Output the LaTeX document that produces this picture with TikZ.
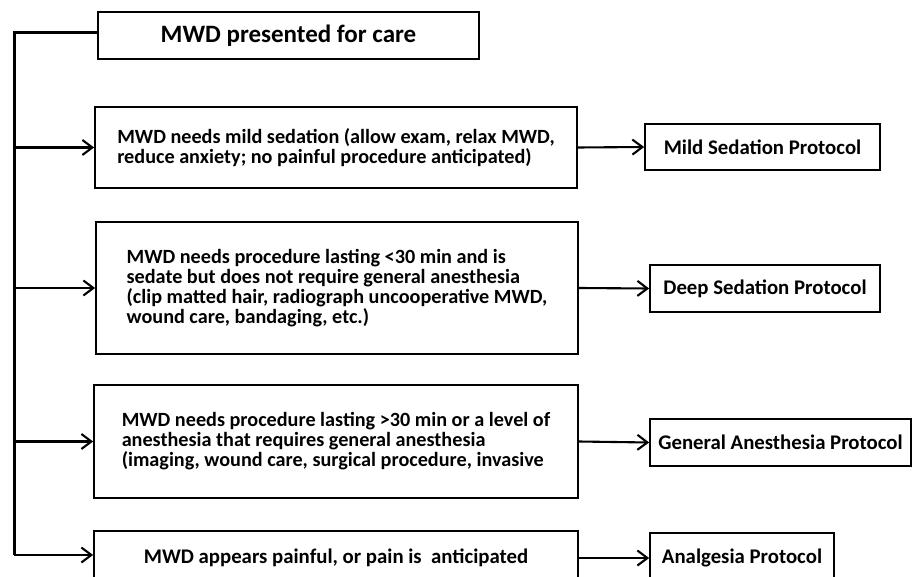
\documentclass[tikz,border=0pt]{standalone}
\usepackage{fontspec}
\setmainfont{Carlito}
\usetikzlibrary{arrows.meta}
\begin{document}
\begin{tikzpicture}[x=1pt,y=-1pt,
  box/.style={draw, line width=1.7pt, rectangle, font=\bfseries\fontsize{20.8}{20}\selectfont, inner sep=0pt},
  lbox/.style={box, align=left, font=\bfseries\fontsize{20.2}{20}\selectfont},
  trunk/.style={line width=3pt},
  arr/.style={line width=2.1pt, -{Straight Barb[length=10pt,width=15pt]}}]
\useasboundingbox (0,0) rectangle (912,577);
\clip (0,0) rectangle (912,577);
\node[box, minimum width=381pt, minimum height=47pt, font=\bfseries\fontsize{25}{24}\selectfont] (top) at (288.5,35.5) {MWD presented for care};
\node[lbox, minimum width=482pt, minimum height=81pt] (b1) at (336,147.5) {MWD needs mild sedation (allow exam, relax MWD,\\reduce anxiety; no painful procedure anticipated)};
\node[lbox, minimum width=482pt, minimum height=132pt] (b2) at (337,288) {MWD needs procedure lasting <30 min and is\\sedate but does not require general anesthesia\\(clip matted hair, radiograph uncooperative MWD,\\wound care, bandaging, etc.)};
\node[lbox, minimum width=484pt, minimum height=113pt] (b3) at (336,441.5) {MWD needs procedure lasting >30 min or a level of\\anesthesia that requires general anesthesia\\(imaging, wound care, surgical procedure, invasive};
\node[box, minimum width=484pt, minimum height=54pt] (b4) at (336,558) {MWD appears painful, or pain is~ anticipated};
\node[box, minimum width=235pt, minimum height=46pt] (p1) at (762.5,147) {Mild Sedation Protocol};
\node[box, minimum width=230pt, minimum height=47pt] (p2) at (765,288.5) {Deep Sedation Protocol};
\node[box, minimum width=261pt, minimum height=47pt] (p3) at (780.5,442.5) {General Anesthesia Protocol};
\node[box, minimum width=184pt, minimum height=50pt] (p4) at (742,558) {Analgesia Protocol};
\coordinate (tA) at (14,33);
\coordinate (tB) at (14,555);
\draw[trunk] (top.west |- tA) -- (tA) -- (tB);
\draw[arr] (tA |- b1.west) -- (b1.west);
\draw[arr] (tA |- b2.west) -- (b2.west);
\draw[arr] (tA |- b3.west) -- (b3.west);
\draw[arr] (tB) -- (b4.west |- tB);
\draw[arr] (b1.east) -- (p1.west);
\draw[arr] (b2.east) -- (p2.west);
\draw[arr] (b3.east) -- (p3.west);
\draw[arr] (b4.east) -- (p4.west);
\end{tikzpicture}
\end{document}
